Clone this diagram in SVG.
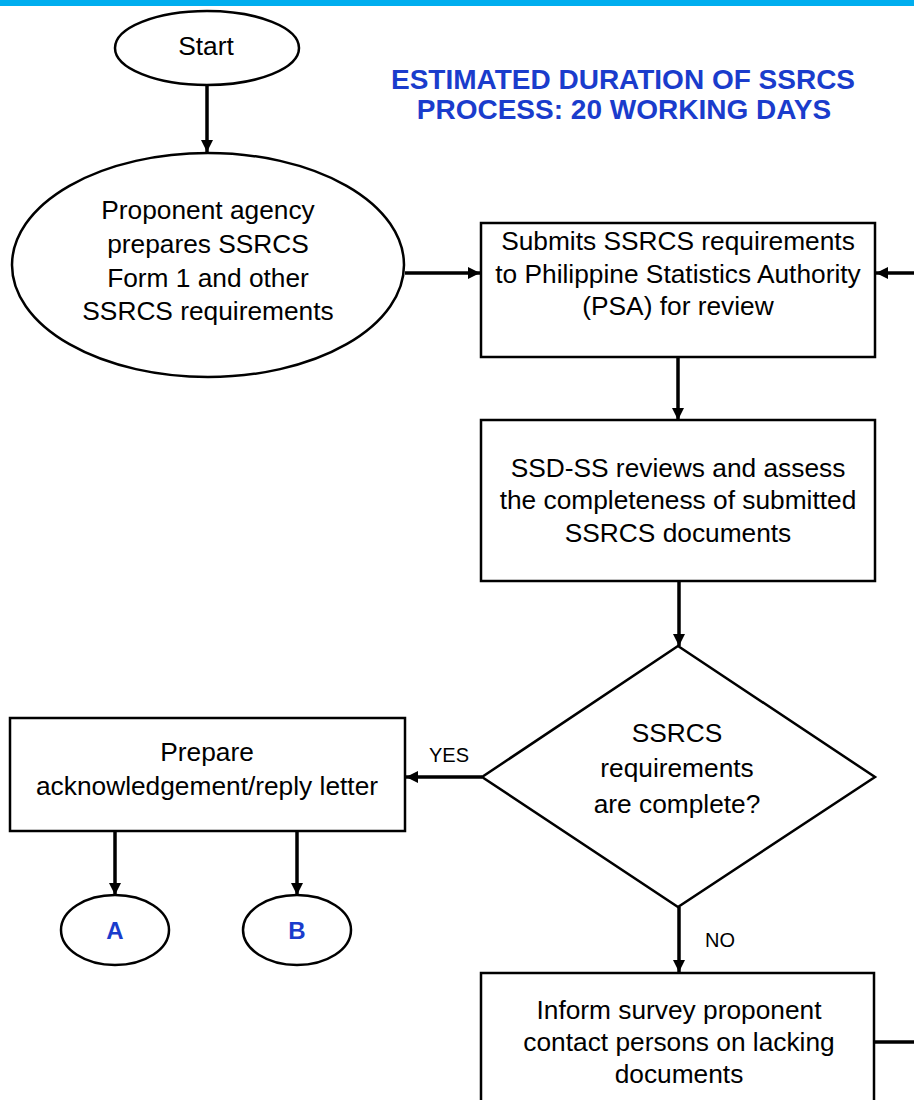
<svg xmlns="http://www.w3.org/2000/svg" width="914" height="1100" viewBox="0 0 914 1100">
<style>
.shape{fill:#fff;stroke:#000;stroke-width:2.5}
.t{font-family:"Liberation Sans",Arial,sans-serif;font-size:26.3px;fill:#000;text-anchor:middle}
.lbl{font-family:"Liberation Sans",Arial,sans-serif;font-size:20px;fill:#000;text-anchor:middle}
.title{font-family:"Liberation Sans",Arial,sans-serif;font-size:28px;font-weight:bold;fill:#1a3ccc;text-anchor:middle}
.conn{font-family:"Liberation Sans",Arial,sans-serif;font-size:24px;font-weight:bold;fill:#1a3ccc;text-anchor:middle}
.edge{stroke:#000;stroke-width:3.5;fill:none}
</style>
<defs>
<marker id="ah" markerUnits="userSpaceOnUse" markerWidth="14" markerHeight="14" refX="12" refY="6" orient="auto">
<path d="M0,0 L12,6 L0,12 z" fill="#000"/>
</marker>
</defs>
<rect x="0" y="0" width="914" height="6" fill="#00aeef"/>
<text class="title" x="623" y="89">ESTIMATED DURATION OF SSRCS</text>
<text class="title" x="624" y="119">PROCESS: 20 WORKING DAYS</text>

<g id="connectors">
<line class="edge" x1="207" y1="86" x2="207" y2="152" marker-end="url(#ah)"/>
<line class="edge" x1="405" y1="273" x2="480" y2="273" marker-end="url(#ah)"/>
<line class="edge" x1="914" y1="273" x2="876" y2="273" marker-end="url(#ah)"/>
<line class="edge" x1="678" y1="357" x2="678" y2="420" marker-end="url(#ah)"/>
<line class="edge" x1="679" y1="581" x2="679" y2="646" marker-end="url(#ah)"/>
<line class="edge" x1="482" y1="777" x2="406" y2="777" marker-end="url(#ah)"/>
<line class="edge" x1="115" y1="831" x2="115" y2="895" marker-end="url(#ah)"/>
<line class="edge" x1="297" y1="831" x2="297" y2="895" marker-end="url(#ah)"/>
<line class="edge" x1="679" y1="907" x2="679" y2="972" marker-end="url(#ah)"/>
<line class="edge" x1="874" y1="1042" x2="914" y2="1042"/>
<text class="lbl" x="449" y="762">YES</text>
<text class="lbl" x="720" y="947">NO</text>
</g>

<g id="start">
<ellipse class="shape" cx="207" cy="48" rx="92" ry="37"/>
<text class="t" x="206" y="55">Start</text>
</g>

<g id="prepare">
<ellipse class="shape" cx="208" cy="265" rx="196" ry="112"/>
<text class="t" x="208" y="219">Proponent agency</text>
<text class="t" x="208" y="253">prepares SSRCS</text>
<text class="t" x="208" y="287">Form 1 and other</text>
<text class="t" x="208" y="320">SSRCS requirements</text>
</g>

<g id="submit">
<rect class="shape" x="481" y="223" width="394" height="134"/>
<text class="t" x="678" y="250">Submits SSRCS requirements</text>
<text class="t" x="678" y="283">to Philippine Statistics Authority</text>
<text class="t" x="678" y="315">(PSA) for review</text>
</g>

<g id="review">
<rect class="shape" x="481" y="420" width="394" height="161"/>
<text class="t" x="678" y="477">SSD-SS reviews and assess</text>
<text class="t" x="678" y="509">the completeness of submitted</text>
<text class="t" x="678" y="542">SSRCS documents</text>
</g>

<g id="decision">
<polygon class="shape" points="678,646 875,777 678,907 482,777"/>
<text class="t" x="677" y="742">SSRCS</text>
<text class="t" x="677" y="777">requirements</text>
<text class="t" x="677" y="813">are complete?</text>
</g>

<g id="reply">
<rect class="shape" x="10" y="718" width="395" height="113"/>
<text class="t" x="207" y="761">Prepare</text>
<text class="t" x="207" y="795">acknowledgement/reply letter</text>
</g>

<g id="connA">
<ellipse class="shape" cx="115" cy="930" rx="54" ry="35"/>
<text class="conn" x="115" y="939">A</text>
</g>

<g id="connB">
<ellipse class="shape" cx="297" cy="930" rx="54" ry="35"/>
<text class="conn" x="297" y="939">B</text>
</g>

<g id="inform">
<rect class="shape" x="481" y="973" width="393" height="140"/>
<text class="t" x="679" y="1019">Inform survey proponent</text>
<text class="t" x="679" y="1051">contact persons on lacking</text>
<text class="t" x="679" y="1083">documents</text>
</g>
</svg>
